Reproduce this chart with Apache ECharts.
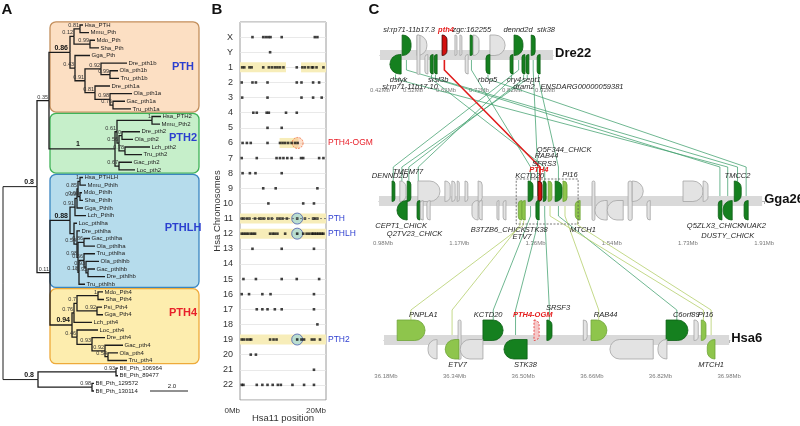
<!DOCTYPE html>
<html>
<head>
<meta charset="utf-8">
<script src="https://cdn.jsdelivr.net/npm/echarts@6/dist/echarts.min.js"></script>
<style>html,body{margin:0;padding:0;background:#fff;}#chart{width:800px;height:426px;}</style>
</head>
<body>
<div id="chart"></div>
<script>
// ================= PANEL A DATA (phylogeny, branch lengths) =================
const treePTH = "(((Hsa_PTH:3,Mmu_Pth:9)0.81:6,(Mdo_Pth:5,Sha_Pth:9)0.99:16)0.12:4,(Gga_Pth:15,((Dre_pth1b:26,(Ola_pth1b:8,Tru_pth1b:9)0.99:9)0.92:16,(Dre_pth1a:15,(Ola_pth1a:22,(Gac_pth1a:12,Tru_pth1a:18)0.76:3)0.98:15)0.81:10)0.91:10)0.43:5)0.86*:21";
const treePTH2 = "(((Hsa_PTH2:9,Mmu_Pth2:8)1:35,((Dre_pth2:18,Ola_pth2:11)0:3,(Lch_pth2:25,Tru_pth2:17)0.78:6)0.56:2)0.61:2,(Gac_pth2:13,Loc_pth2:16)0.67:4)1*:66";
const treePTHLH = "(((((Hsa_PTHLH:3,Mmu_Pthlh:6)1:2,(Mdo_Pthlh:2,Sha_Pthlh:3)0.98:2)0.85:1,Gga_Pthlh:6)0.99:2,Lch_Pthlh:11)0.91:5,(Loc_pthlha:3,(Dre_pthlha:3,((Gac_pthlha:6,Ola_pthlha:11)0.86:6,((Tru_pthlha:11,(Ola_pthlhb:13,(Gac_pthlhb:7,Dre_pthlhb:17)0.95:2)0.93:2)0.66:5,Tru_pthlhb:6)0.18:1)0.98:1)0.54:3):4)0.88*:20";
const treePTH4 = "((((Mdo_Pth4:5,Sha_Pth4:6)1:21,(Psi_Pth4:5,Gga_Pth4:6)0.92:20)0.7:3,Lch_pth4:18)0.76:2,(Loc_pth4:21,(Dre_pth4:13,(Gac_pth4:18,(Ola_pth4:10,Tru_pth4:19)0.54:3)0.92:13)0.93:15)0.46:5)0.94*:22";
const treeBfl = "((Bfl_Pth_106964:2,Bfl_Pth_89477:2)0.93:78,(Bfl_Pth_129572:2,Bfl_Pth_130114:2)0.98:54)0.8*:35";
const treeNewick = "(((" + treePTH + "," + treePTH2 + ")0.35:12,(" + treePTHLH + "," + treePTH4 + ")0.11:13)0.8*:34," + treeBfl + ");";
const cladeNames = ['PTH', 'PTH2', 'PTHLH', 'PTH4'];
const cladeLeafRanges = [[0, 11], [12, 19], [20, 34], [35, 44]];
const cladeLabelRows = [5.5, 14.8, 26.6, 37.8];
const scaleBarLength = 38;
const scaleBarLabel = '2.0';

// ================= PANEL B DATA (Hsa11 paralogon hits) =================
const chromosomes = ['X','Y','1','2','3','4','5','6','7','8','9','10','11','12','13','14','15','16','17','18','19','20','21','22'];
const hitsByChromosome = [
  [2.9,5.4,6.0,6.6,7.1,9.7,17.4,18.0],
  [7.0],
  [0.5,1.0,2.2,2.7,5.4,6.7,7.4,8.1,8.7,9.3,10.1,13.2,14.5,15.1,15.9,16.7,17.0,17.8,19.4],
  [0.4,2.9,3.7,6.4,13.2,14.3,17.0,18.4],
  [0.5,6.4,14.3,17.0,19.0],
  [3.1,3.9,6.2,6.7,10.7,13.2],
  [6.4,9.7],
  [0.6,1.6,2.5,6.4,9.3,9.9,10.5,11.2,12.0,12.8,13.4],
  [0.4,3.9,8.5,9.3,10.1,11.0,12.0,14.2,14.7,18.4,19.4],
  [0.6,2.3,3.6,9.7],
  [5.4,8.3,18.0],
  [6.6,14.7,17.2],
  [0.4,0.9,1.6,2.2,3.5,4.5,5.0,5.6,6.6,7.4,8.7,9.3,9.9,10.9,13.3,15.1,17.0,17.4,18.0],
  [0.4,0.9,1.4,1.9,2.5,3.0,3.5,7.0,7.6,8.1,8.7,10.5,13.3,14.7,15.5,16.1,16.7,17.0,17.4,17.8,18.2,18.6,19.0,19.4],
  [2.9,9.7,17.2],
  [],
  [0.8,3.7,9.7,13.2,18.4],
  [0.4,2.1,5.2,7.1,17.2],
  [3.9,5.2,6.4,8.1,9.7,17.2],
  [18.0],
  [0.4,0.9,1.6,2.2,2.6,7.0,7.8,8.5,13.3,14.3,14.9,16.7,17.3,18.6],
  [2.5,3.7],
  [17.2],
  [0.4,0.8,3.9,5.2,6.4,7.6,8.8,9.5,12.2,14.9,17.2]
];
const conservedBlocks = [['1',0,10.7],['1',14.2,20],['6',9.2,13.6],['11',0,20],['12',0,20],['19',0,20]];
const paralogHits = [['6',13.4,'PTH4-OGM'],['11',13.3,'PTH'],['12',13.3,'PTHLH'],['19',13.3,'PTH2']];
const referenceChromosome = '11';
const xRangeB = [0, 20];
const xTickLabelsB = ['0Mb', '20Mb'];

// ================= PANEL C DATA (synteny, Mb) =================
// genes: [start, end, strand(1 fwd / -1 rev / 0 both), class]
const dreAxisExtent = [0.42, 0.944];
const dreBarExtent = [0.42, 0.944];
const dreTickLabels = ['0.42Mb','0.52Mb','0.62Mb','0.72Mb','0.82Mb','0.92Mb'];
const dreGenes = [
  [0.487,0.514,1,'dark'],[0.532,0.562,1,'gray'],[0.608,0.623,1,'red'],[0.647,0.653,1,'gray'],
  [0.662,0.668,1,'gray'],[0.693,0.702,1,'dark'],[0.702,0.720,1,'gray'],[0.753,0.799,1,'gray'],
  [0.826,0.853,1,'dark'],[0.878,0.890,1,'dark'],
  [0.450,0.484,-1,'dark'],[0.532,0.541,0,'gray'],[0.556,0.565,-1,'gray'],[0.572,0.581,-1,'dark'],
  [0.584,0.593,-1,'dark'],[0.678,0.687,-1,'gray'],[0.741,0.753,-1,'dark'],[0.814,0.823,-1,'dark'],
  [0.850,0.859,-1,'dark'],[0.862,0.871,-1,'dark'],[0.896,0.905,-1,'dark']
];
const dreLabels = [
  ['sl:rp71-11b17.3',0.508,-1],['pth4',0.620,-1],['zgc:162255',0.698,-1],['dennd2d',0.838,-1],['stk38',0.923,-1],
  ['dstyk',0.476,1],['sl:rp71-11b17.10',0.511,2],['srsf3b',0.596,1],['rbbp5',0.746,1],['cry4',0.826,1],
  ['sept1',0.879,1],['dram2',0.856,2],['ENSDARG00000059381',1.032,2]
];
const ggaAxisExtent = [0.9702, 1.912];
const ggaBarExtent = [0.9702, 1.905];
const ggaTickLabels = ['0.98Mb','1.17Mb','1.36Mb','1.54Mb','1.73Mb','1.91Mb'];
const ggaGenes = [
  [1.002,1.009,1,'dark'],[1.021,1.036,1,'gray'],[1.039,1.048,1,'dark'],[1.065,1.119,1,'gray'],
  [1.131,1.144,1,'gray'],[1.148,1.156,1,'gray'],[1.161,1.166,1,'gray'],[1.180,1.187,1,'gray'],
  [1.212,1.222,1,'gray'],[1.334,1.346,1,'dark'],[1.358,1.368,1,'red'],[1.371,1.378,1,'dark'],
  [1.383,1.392,1,'light'],[1.400,1.417,1,'dark'],[1.419,1.429,1,'light'],
  [1.014,1.039,-1,'dark'],[1.063,1.070,-1,'dark'],[1.071,1.078,-1,'gray'],[1.087,1.095,-1,'gray'],
  [1.197,1.212,-1,'gray'],[1.214,1.222,-1,'gray'],[1.258,1.261,-1,'gray'],[1.273,1.280,-1,'gray'],
  [1.310,1.319,-1,'light'],[1.319,1.327,-1,'light'],[1.353,1.361,-1,'dark'],[1.449,1.461,-1,'light'],
  [1.490,1.497,0,'gray'],[1.497,1.527,-1,'gray'],[1.527,1.566,-1,'gray'],[1.578,1.588,0,'gray'],
  [1.588,1.615,1,'gray'],[1.624,1.632,-1,'gray'],[1.712,1.761,1,'gray'],[1.761,1.773,1,'gray'],
  [1.798,1.807,-1,'dark'],[1.810,1.832,-1,'dark'],[1.837,1.854,1,'dark'],[1.861,1.871,-1,'dark']
];
const ggaLabels = [
  ['DENND2D',0.997,-1],['TMEM77',1.041,-1.6],['KCTD20',1.338,-1],['PTH4',1.360,-1.9],['SFRS3',1.373,-2.7],
  ['RAB44',1.379,-3.9],['Q5F344_CHICK',1.422,-4.7],['PI16',1.436,-1.2],['TMCC2',1.845,-1],
  ['CEPT1_CHICK',1.024,1],['Q2TV23_CHICK',1.057,2.2],['B3TZB6_CHICK',1.261,1.5],['STK38',1.354,1.5],
  ['ETV7',1.319,2.5],['MTCH1',1.468,1.5],['Q5ZLX3_CHICK',1.789,1],['NUAK2',1.884,1],['DUSTY_CHICK',1.821,2.4]
];
const ggaBlock = [1.305, 1.456];
const hsaAxisExtent = [36.1753, 36.982];
const hsaBarExtent = [36.1753, 36.98];
const hsaTickLabels = ['36.18Mb','36.34Mb','36.50Mb','36.66Mb','36.82Mb','36.98Mb'];
const hsaGenes = [
  [36.206,36.271,1,'light'],[36.348,36.355,0,'gray'],[36.406,36.453,1,'dark'],[36.525,36.537,1,'ogm'],
  [36.555,36.567,1,'dark'],[36.640,36.649,1,'gray'],[36.658,36.695,1,'light'],[36.833,36.884,1,'dark'],
  [36.898,36.908,1,'gray'],[36.915,36.926,1,'light'],
  [36.278,36.299,-1,'gray'],[36.318,36.350,-1,'light'],[36.353,36.406,-1,'gray'],[36.455,36.509,-1,'dark'],
  [36.702,36.803,-1,'gray'],[36.814,36.835,-1,'gray'],[36.929,36.947,-1,'light']
];
const hsaLabels = [
  ['PNPLA1',36.267,-1],['KCTD20',36.418,-1],['PTH4-OGM',36.522,-1],['SRSF3',36.581,-2],['RAB44',36.692,-1],
  ['C6orf89',36.880,-1],['PI16',36.925,-1],['ETV7',36.347,1],['STK38',36.505,1],['MTCH1',36.938,1]
];
// links [upper-track Mb, lower-track Mb, class]
const dreGgaLinks = [
  [0.467,1.821,'dark'],[0.500,1.845,'dark'],[0.588,1.802,'dark'],[0.576,1.3745,'dark'],
  [0.697,1.340,'dark'],[0.747,1.866,'dark'],[0.818,1.066,'dark'],[0.840,1.005,'dark'],
  [0.855,1.043,'dark'],[0.866,1.026,'dark'],[0.884,1.357,'dark'],[0.900,1.408,'dark'],
  [0.615,1.363,'red']
];
const ggaHsaLinks = [
  [1.3145,36.334,'light'],[1.323,36.238,'light'],[1.340,36.43,'dark'],[1.357,36.482,'dark'],
  [1.3745,36.561,'dark'],[1.408,36.858,'dark'],[1.424,36.676,'light'],[1.3875,36.92,'light'],
  [1.455,36.938,'light']
];

// ================= STYLES =================
const FF = '"Liberation Sans", Arial, sans-serif';
const f = (size, w, s) => (s || '') + ' ' + (w || 'normal') + ' ' + size + 'px ' + FF;
const cladeFill = ['#fcdfc3', '#c6efca', '#b6dcec', '#fdedae'];
const cladeStroke = ['#c38f5c', '#3fb257', '#3a86c0', '#eeaa3a'];
const cladeText = ['#2b3fcf', '#2b3fcf', '#2b3fcf', '#e8202a'];
const GENE_STYLE = {
  dark: {fill: '#15801f', stroke: '#0d5f15'},
  light: {fill: '#8ec54c', stroke: '#6fa537'},
  gray: {fill: '#e3e3e3', stroke: '#a5a5a5'},
  red: {fill: '#d3100f', stroke: '#3a0000'},
  ogm: {fill: '#f6c8c8', stroke: '#e52b2b', dash: [2, 1.5]}
};
const LINK_STYLE = {
  dark: {stroke: '#3f9f6c', lineWidth: 0.75},
  red: {stroke: '#e01b1b', lineWidth: 1.6},
  light: {stroke: '#b5cf6c', lineWidth: 0.8}
};

// ================= TREE LAYOUT =================
function parseNewick(str) {
  const s = str.replace(/\s+/g, '');
  let i = 0;
  function node() {
    const n = {children: [], name: '', label: '', len: 0};
    if (s[i] === '(') {
      i++;
      n.children.push(node());
      while (s[i] === ',') { i++; n.children.push(node()); }
      i++;
    }
    let st = i;
    while (i < s.length && ':,);'.indexOf(s[i]) < 0) i++;
    const t = s.slice(st, i);
    if (n.children.length) n.label = t; else n.name = t;
    if (s[i] === ':') {
      i++; st = i;
      while (i < s.length && ',);'.indexOf(s[i]) < 0) i++;
      n.len = parseFloat(s.slice(st, i));
    }
    return n;
  }
  return node();
}
const treeRoot = parseNewick(treeNewick);
const treeNodes = [];
let leafCounter = 0;
function layoutTree(n, parent) {
  n.parent = parent;
  n.x = (parent ? parent.x : 0) + (n.len || 0);
  treeNodes.push(n);
  if (n.children.length) {
    n.children.forEach(c => layoutTree(c, n));
    n.y = (n.children[0].y + n.children[n.children.length - 1].y) / 2;
  } else {
    n.y = leafCounter++;
  }
}
layoutTree(treeRoot, null);
const nLeaves = leafCounter;

// ================= SERIES BUILDERS =================
function geneSeries(genes, xi, yi) {
  return {
    type: 'custom', coordinateSystem: 'cartesian2d', xAxisIndex: xi, yAxisIndex: yi,
    data: genes.map(g => [(g[0] + g[1]) / 2, 0]),
    renderItem: (params, api) => {
      const g = genes[params.dataIndex];
      const a = api.coord([g[0], 0]), b = api.coord([g[1], 0]);
      const c = a[1];
      const w = Math.max(b[0] - a[0], 2);
      let y, h;
      if (g[2] > 0) { y = c - 20; h = 20.5; }
      else if (g[2] < 0) { y = c - 0.5; h = 19.5; }
      else { y = c - 20; h = 39.5; }
      const rr = Math.min(w * 0.95, h / 2);
      const sm = Math.min(w / 2, 2);
      const r = g[2] > 0 ? [0, rr, rr, 0] : (g[2] < 0 ? [rr, 0, 0, rr] : [sm, sm, sm, sm]);
      const st = GENE_STYLE[g[3]];
      return {type: 'rect', shape: {x: a[0], y: y, width: w, height: h, r: r},
        style: {fill: st.fill, stroke: st.stroke, lineWidth: 0.8, lineDash: st.dash || null}};
    }
  };
}
function barSeries(ext, name, xi, yi) {
  return {
    type: 'custom', coordinateSystem: 'cartesian2d', xAxisIndex: xi, yAxisIndex: yi,
    data: [[ext[0], 0]],
    renderItem: (params, api) => {
      const a = api.coord([ext[0], 0]), b = api.coord([ext[1], 0]);
      return {type: 'group', children: [
        {type: 'rect', shape: {x: a[0], y: a[1] - 5, width: b[0] - a[0], height: 10}, style: {fill: '#d9d9d9'}},
        {type: 'text', x: b[0] + 2, y: a[1] - 2, style: {text: name, font: f(13, 'bold'), fill: '#111', align: 'left', verticalAlign: 'middle'}}
      ]};
    }
  };
}
function labelSeries(labels, xi, yi) {
  return {
    type: 'custom', coordinateSystem: 'cartesian2d', xAxisIndex: xi, yAxisIndex: yi, z: 4,
    data: labels.map(l => [l[1], 0]),
    renderItem: (params, api) => {
      const l = labels[params.dataIndex];
      const p = api.coord([l[1], 0]);
      const lev = l[2];
      const dy = lev < 0 ? (-25 + (lev + 1) * 7) : (25 + (lev - 1) * 7);
      const isRed = /pth4/i.test(l[0]);
      return {type: 'text', x: p[0], y: p[1] + dy, style: {text: l[0], font: f(7.5, isRed ? 'bold' : 'normal', 'italic'),
        fill: isRed ? '#e51d1d' : '#262626', align: 'center', verticalAlign: 'middle'}};
    }
  };
}
function trackXAxis(gi, ext, labels) {
  const first = parseFloat(labels[0]), last = parseFloat(labels[labels.length - 1]);
  const step = (last - first) / (labels.length - 1);
  const labelVals = labels.map((l, k) => first + k * step);
  const tickVals = [];
  for (let k = 0; k < labels.length * 2 - 1; k++) tickVals.push(first + k * step / 2);
  return {
    type: 'value', gridIndex: gi, min: ext[0], max: ext[1], position: 'bottom',
    axisLine: {show: true, lineStyle: {color: '#b0b0b0', width: 1}},
    axisTick: {show: true, customValues: tickVals, length: 3, lineStyle: {color: '#b0b0b0'}},
    axisLabel: {show: true, customValues: labelVals, fontSize: 6, color: '#7a7a7a', margin: 4,
      formatter: v => labels[Math.round((v - first) / step)] || ''},
    splitLine: {show: false}
  };
}
function trackYAxis(gi) {
  return {type: 'value', gridIndex: gi, min: -1, max: 1, show: false};
}

// ================= PANEL B helpers =================
const yCats = [''].concat(chromosomes, ['']);
const rowIdx = name => chromosomes.indexOf(name) + 1;
const dotData = [];
chromosomes.forEach((c, i) => hitsByChromosome[i].forEach(x => dotData.push([x, i + 1])));

// ================= OPTION =================
const option = {
  animation: false,
  backgroundColor: '#fff',
  textStyle: {fontFamily: FF},
  grid: [
    {left: 3, top: 25, width: 197, height: 366, show: false, outerBoundsMode: 'none'},
    {left: 240, top: 22, width: 86, height: 378, show: true, borderColor: '#9a9a9a', borderWidth: 1, backgroundColor: 'transparent', outerBoundsMode: 'none'},
    {left: 380, top: 27, width: 173, height: 56, show: false, outerBoundsMode: 'none'},
    {left: 379, top: 166, width: 386, height: 70, show: false, outerBoundsMode: 'none'},
    {left: 384, top: 311, width: 346, height: 58, show: false, outerBoundsMode: 'none'}
  ],
  xAxis: [
    {type: 'value', gridIndex: 0, min: 0, max: 197, show: false},
    {type: 'value', gridIndex: 1, min: xRangeB[0], max: xRangeB[1],
      axisLine: {show: false}, axisTick: {show: false}, splitLine: {show: false},
      axisLabel: {customValues: xRangeB, fontSize: 8, color: '#333', margin: 7, align: 'right',
        formatter: v => xTickLabelsB[v === xRangeB[0] ? 0 : 1]},
      name: 'Hsa11 position', nameLocation: 'middle', nameGap: 13, nameMoveOverlap: false,
      nameTextStyle: {fontSize: 9.5, color: '#333'}},
    trackXAxis(2, dreAxisExtent, dreTickLabels),
    trackXAxis(3, ggaAxisExtent, ggaTickLabels),
    trackXAxis(4, hsaAxisExtent, hsaTickLabels)
  ],
  yAxis: [
    {type: 'value', gridIndex: 0, min: 0, max: nLeaves - 1, inverse: true, show: false},
    {type: 'category', gridIndex: 1, data: yCats, inverse: true, boundaryGap: false,
      axisLine: {show: false}, axisTick: {show: false},
      axisLabel: {interval: 0, fontSize: 9, color: '#333', margin: 7},
      splitLine: {show: true, interval: 0, lineStyle: {color: '#e3e3e3', width: 0.8}},
      name: 'Hsa Chromosomes', nameLocation: 'middle', nameGap: 18, nameMoveOverlap: false,
      nameTextStyle: {fontSize: 9.5, color: '#333'}},
    {type: 'category', gridIndex: 1, data: yCats, inverse: true, boundaryGap: false, position: 'right',
      axisLine: {show: false}, axisTick: {show: false}, splitLine: {show: false},
      axisLabel: {interval: 0, margin: 2, align: 'left',
        formatter: v => { const h = paralogHits.find(p => p[0] === v); if (!h) return ''; return (/OGM/.test(h[2]) ? '{r|' : '{b|') + h[2] + '}'; },
        rich: {r: {color: '#e8202a', fontSize: 8.5}, b: {color: '#2f3fd0', fontSize: 8.5}}}},
    trackYAxis(2), trackYAxis(3), trackYAxis(4)
  ],
  series: [
    // ---- A: clade boxes
    {type: 'custom', coordinateSystem: 'cartesian2d', xAxisIndex: 0, yAxisIndex: 0,
      data: cladeLeafRanges.map(r => [47, r[0]]),
      renderItem: (params, api) => {
        const i = params.dataIndex, r = cladeLeafRanges[i];
        const a = api.coord([47, r[0] - 0.42]), b = api.coord([196, r[1] + 0.42]);
        const t = api.coord([180, cladeLabelRows[i]]);
        return {type: 'group', children: [
          {type: 'rect', shape: {x: a[0], y: a[1], width: b[0] - a[0], height: b[1] - a[1], r: 6},
            style: {fill: cladeFill[i], stroke: cladeStroke[i], lineWidth: 1.3}},
          {type: 'text', x: t[0], y: t[1], style: {text: cladeNames[i], font: f(11, 'bold'), fill: cladeText[i], align: 'center', verticalAlign: 'middle'}}
        ]};
      }},
    // ---- A: tree
    {type: 'custom', coordinateSystem: 'cartesian2d', xAxisIndex: 0, yAxisIndex: 0,
      data: treeNodes.map(n => [n.x, n.y]),
      renderItem: (params, api) => {
        const n = treeNodes[params.dataIndex];
        const ch = [];
        const p = api.coord([n.x, n.y]);
        if (n.parent) {
          const pp = api.coord([n.parent.x, n.parent.y]);
          const pc = api.coord([n.parent.x, n.y]);
          ch.push({type: 'polyline', shape: {points: [pp, pc, p]},
            style: {stroke: '#1c1c1c', lineWidth: n.parent.parent ? 1.3 : 1, fill: null}});
        }
        if (!n.children.length) {
          ch.push({type: 'text', x: p[0] + 1.5, y: p[1], style: {text: n.name, font: f(6), fill: '#222', align: 'left', verticalAlign: 'middle'}});
        } else if (n.label) {
          const bold = /\*$/.test(n.label);
          const txt = n.label.replace('*', '');
          if (bold) {
            const px0 = api.coord([n.parent.x, n.y])[0];
            ch.push({type: 'text', x: Math.min(p[0] - 2, px0 + 31), y: p[1] - 1, style: {text: txt, font: f(7, 'bold'), fill: '#111', align: 'right', verticalAlign: 'bottom'}});
          } else {
            ch.push({type: 'text', x: p[0] - 1, y: p[1] - 0.5, style: {text: txt, font: f(5.5), fill: '#333', align: 'right', verticalAlign: 'bottom'}});
          }
        }
        return {type: 'group', children: ch};
      }},
    // ---- A: scale bar
    {type: 'custom', coordinateSystem: 'cartesian2d', xAxisIndex: 0, yAxisIndex: 0,
      data: [[147, nLeaves - 1]],
      renderItem: (params, api) => {
        const a = api.coord([147, nLeaves - 1]), b = api.coord([147 + scaleBarLength, nLeaves - 1]);
        return {type: 'group', children: [
          {type: 'line', shape: {x1: a[0], y1: a[1], x2: b[0], y2: b[1]}, style: {stroke: '#222', lineWidth: 1}},
          {type: 'text', x: (a[0] + b[0]) / 2 + 3, y: a[1] - 2, style: {text: scaleBarLabel, font: f(6), fill: '#222', align: 'center', verticalAlign: 'bottom'}}
        ]};
      }},
    // ---- B: conserved blocks
    {type: 'custom', coordinateSystem: 'cartesian2d', xAxisIndex: 1, yAxisIndex: 1,
      data: conservedBlocks.map(b => [b[1], rowIdx(b[0])]),
      renderItem: (params, api) => {
        const b = conservedBlocks[params.dataIndex];
        const a = api.coord([b[1], rowIdx(b[0])]), e = api.coord([b[2], rowIdx(b[0])]);
        return {type: 'rect', shape: {x: a[0], y: a[1] - 5, width: e[0] - a[0], height: 10}, style: {fill: '#f7edb9'}};
      }},
    // ---- B: reference chromosome line
    {type: 'line', xAxisIndex: 1, yAxisIndex: 1, symbol: 'none',
      data: [[xRangeB[0], rowIdx(referenceChromosome)], [xRangeB[1], rowIdx(referenceChromosome)]],
      lineStyle: {color: '#666', width: 0.8, type: [2, 2]}},
    // ---- B: paralog circles
    {type: 'scatter', xAxisIndex: 1, yAxisIndex: 1, symbol: 'circle', symbolSize: 11,
      data: paralogHits.map(h => ({value: [h[1], rowIdx(h[0])],
        itemStyle: /OGM/.test(h[2]) ? {color: 'rgba(250,185,140,0.55)', borderColor: '#ef6a3a', borderWidth: 1, borderType: [2, 1]}
                                    : {color: 'rgba(120,205,235,0.6)', borderColor: '#4a5caa', borderWidth: 1}}))},
    // ---- B: hits
    {type: 'scatter', xAxisIndex: 1, yAxisIndex: 1, symbol: 'rect', symbolSize: 2.6,
      itemStyle: {color: '#111'}, data: dotData},
    // ---- C tracks
    barSeries(dreBarExtent, 'Dre22', 2, 3),
    barSeries(ggaBarExtent, 'Gga26', 3, 4),
    barSeries(hsaBarExtent, 'Hsa6', 4, 5),
    {type: 'custom', coordinateSystem: 'cartesian2d', xAxisIndex: 3, yAxisIndex: 4, z: 3,
      data: [[ggaBlock[0], 0]],
      renderItem: (params, api) => {
        const a = api.coord([ggaBlock[0], 0]), b = api.coord([ggaBlock[1], 0]);
        return {type: 'rect', shape: {x: a[0], y: a[1] - 22, width: b[0] - a[0], height: 45},
          style: {fill: null, stroke: '#555', lineWidth: 0.8, lineDash: [2, 1.5]}};
      }},
    geneSeries(dreGenes, 2, 3),
    geneSeries(ggaGenes, 3, 4),
    geneSeries(hsaGenes, 4, 5),
    labelSeries(dreLabels, 2, 3),
    labelSeries(ggaLabels, 3, 4),
    labelSeries(hsaLabels, 4, 5)
  ]
};

const chart = echarts.init(document.getElementById('chart'), null, {renderer: 'canvas'});
chart.setOption(option);

// ---- C: links between tracks, placed through each track's own axes
function strandAt(genes, mb) {
  const g = genes.find(q => mb >= q[0] - 1e-6 && mb <= q[1] + 1e-6);
  return g ? g[2] : 1;
}
function buildLinks(links, upGrid, upGenes, loGrid, loGenes, topGap) {
  return links.map(l => {
    const u = chart.convertToPixel({gridIndex: upGrid}, [l[0], 0]);
    const d = chart.convertToPixel({gridIndex: loGrid}, [l[1], 0]);
    const su = strandAt(upGenes, l[0]), sd = strandAt(loGenes, l[1]);
    const y0 = su < 0 ? u[1] + 19.5 : u[1];
    const y1 = su < 0 ? u[1] + 24 : u[1] + 15;
    const y2 = d[1] - topGap;
    const y3 = sd < 0 ? d[1] : d[1] - 20;
    const st = LINK_STYLE[l[2]];
    return {type: 'polyline', z: 1, silent: true, shape: {points: [[u[0], y0], [u[0], y1], [d[0], y2], [d[0], y3]]},
      style: {stroke: st.stroke, lineWidth: st.lineWidth, fill: null}};
  });
}
const linkEls = buildLinks(dreGgaLinks.filter(l => l[2] !== 'red'), 2, dreGenes, 3, ggaGenes, 34)
  .concat(buildLinks(ggaHsaLinks, 3, ggaGenes, 4, hsaGenes, 30))
  .concat(buildLinks(dreGgaLinks.filter(l => l[2] === 'red'), 2, dreGenes, 3, ggaGenes, 34));
const letters = [['A', 7, 10], ['B', 217, 10], ['C', 374, 10]].map(t => ({
  type: 'text', x: t[1], y: t[2], style: {text: t[0], font: f(15, 'bold'), fill: '#111', align: 'center', verticalAlign: 'middle'}}));
chart.setOption({graphic: {elements: letters.concat(linkEls)}});
</script>
</body>
</html>
